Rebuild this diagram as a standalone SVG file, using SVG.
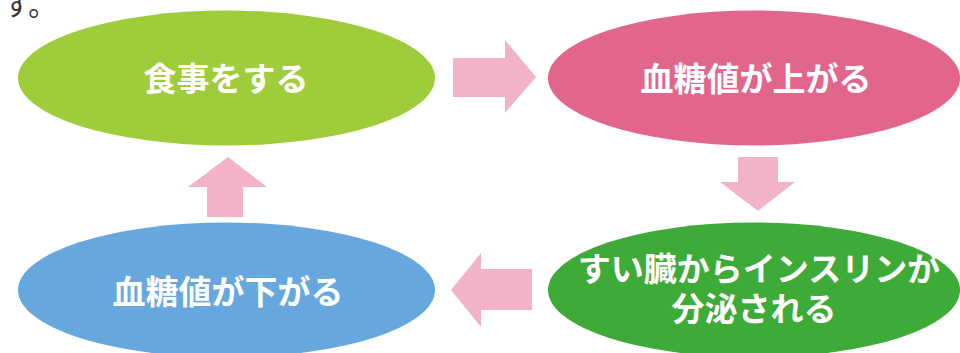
<svg xmlns="http://www.w3.org/2000/svg" width="960" height="353" viewBox="0 0 960 353">
<style>
.lbl{font-family:"Noto Sans CJK JP","Noto Sans",sans-serif;font-weight:700;fill:#ffffff;text-anchor:middle;font-size:33px}
.arr{fill:#f2b3c6}
.top{font-family:"Noto Sans CJK JP","Noto Sans",sans-serif;fill:#333333;font-size:28px}
</style>
<rect width="960" height="353" fill="#ffffff"/>
<text class="top" x="3" y="16">す。</text>
<g id="node-eat">
<ellipse cx="226.5" cy="78" rx="208.5" ry="67.5" fill="#9fcc3b"/>
<text class="lbl" x="226" y="91">食事をする</text>
</g>
<g id="node-rise">
<ellipse cx="754" cy="78" rx="206" ry="67.5" fill="#e2668c"/>
<text class="lbl" x="756" y="91">血糖値が上がる</text>
</g>
<g id="node-insulin">
<ellipse cx="754" cy="290" rx="206" ry="67.5" fill="#3eaa37"/>
<text class="lbl" x="759" y="281">すい臓からインスリンが</text>
<text class="lbl" x="754" y="321">分泌される</text>
</g>
<g id="node-fall">
<ellipse cx="226.5" cy="290" rx="208.5" ry="67.5" fill="#66a8dd"/>
<text class="lbl" x="228" y="304">血糖値が下がる</text>
</g>
<g id="connectors">
<polygon class="arr" points="453,58 505,58 505,40 536,77 505,113 505,97 453,97"/>
<polygon class="arr" points="738,157 778,157 778,182 795,182 758,211 720,182 738,182"/>
<polygon class="arr" points="532,269 481,269 481,253 451,290 481,327 481,310 532,310"/>
<polygon class="arr" points="207,217 207,187 188,187 228,157 267,187 243,187 243,217"/>
</g>
</svg>
